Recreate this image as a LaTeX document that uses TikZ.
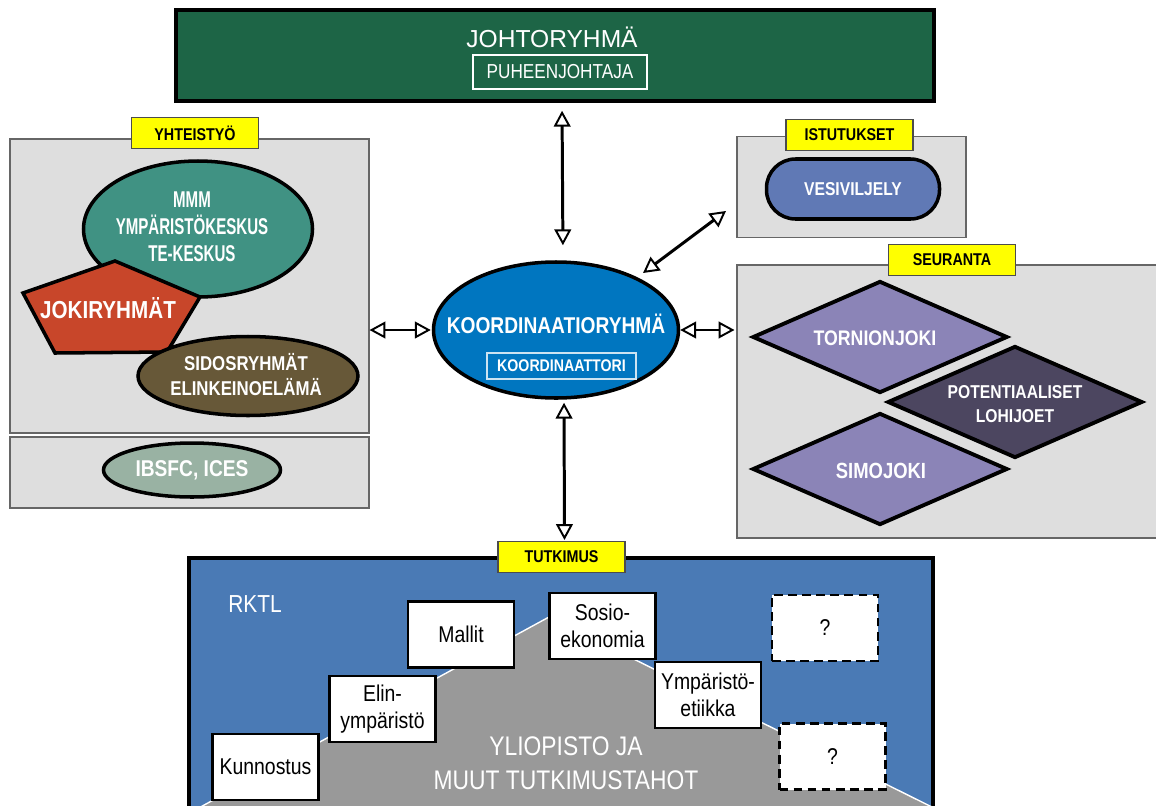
\documentclass[tikz,border=0pt]{standalone}
\usepackage{fontspec}
\setmainfont{Liberation Sans}[FakeStretch=0.85,BoldFeatures={FakeStretch=0.84}]
\newfontfamily\widefont{Liberation Sans}
\newfontfamily\narrowfont{Liberation Sans Bold}[FakeStretch=0.66]
\usepackage{tikz}
\usetikzlibrary{arrows.meta,shapes.geometric,calc}
\definecolor{johtogreen}{RGB}{29,101,70}
\definecolor{panelgray}{RGB}{222,222,222}
\definecolor{mmmteal}{RGB}{64,146,131}
\definecolor{jokired}{RGB}{200,70,42}
\definecolor{sidosbrown}{RGB}{103,88,56}
\definecolor{ibsfcgreen}{RGB}{153,178,163}
\definecolor{koordblue}{RGB}{0,118,192}
\definecolor{vesiblue}{RGB}{96,121,181}
\definecolor{jokipurple}{RGB}{139,132,183}
\definecolor{lohidark}{RGB}{76,70,96}
\definecolor{rktlblue}{RGB}{74,122,181}
\definecolor{tagyellow}{RGB}{255,255,0}
\newcommand{\pxu}{0.02cm}
\newcommand{\bordersize}{2pt}
\newcommand{\fsz}[2]{\fontsize{#1}{#2}\selectfont}

\begin{document}
\begin{tikzpicture}[x=0.02cm,y=-0.02cm,
    panel/.style={draw=black!60,fill=panelgray,line width=0.6pt,inner sep=0pt},
    tag/.style={draw=black!70,fill=tagyellow,line width=0.6pt,inner sep=0pt,
        minimum width=127*\pxu,minimum height=31*\pxu,font=\fsz{9.7}{11}\bfseries},
    blob/.style={draw=black,line width=\bordersize,ellipse,inner sep=0pt},
    wtext/.style={text=white,align=center,inner sep=0pt},
    rhomb/.style={draw=black,line width=2.2pt,diamond,inner sep=0pt,
        minimum width=255*\pxu,minimum height=112*\pxu},
    topic/.style={draw=black,line width=1.6pt,fill=white,inner sep=0pt,align=center,
        minimum width=106*\pxu,minimum height=66*\pxu,font=\fsz{13}{15.5}},
    dbl/.style={{Triangle[open,length=9pt,width=9.5pt,line width=1.1pt]}-{Triangle[open,length=9pt,width=9.5pt,line width=1.1pt]},
        line width=1.7pt}
]

    \clip (0,0) rectangle (1156,805);

%%%%        Panels
    \node[draw=black,line width=\bordersize,fill=johtogreen,inner sep=0pt,
        minimum width=758*\pxu,minimum height=91*\pxu] (johto) at (555,55.5) {};
    \node[panel,minimum width=359*\pxu,minimum height=294*\pxu] (yht) at (189.5,286) {};
    \node[panel,minimum width=359*\pxu,minimum height=71*\pxu] (kv) at (189.5,472.5) {};
    \node[panel,minimum width=229*\pxu,minimum height=101*\pxu] (ist) at (851.5,187) {};
    \node[panel,minimum width=422*\pxu,minimum height=273*\pxu] (seur) at (948,401.5) {};
    \node[draw=black,line width=2.2pt,fill=rktlblue,inner sep=0pt,
        minimum width=744*\pxu,minimum height=260*\pxu] (tutk) at (561,688) {};

%mountain
    \coordinate (peak) at (549,617);
    \coordinate (footL) at (195,810);
    \coordinate (footR) at (938,810);
    \fill[black!40,draw=white,line width=0.8pt] (footL) -- (peak) -- (footR) -- cycle;

%%%%        Tags
    \node[tag] (yhtTag) at (195,133) {YHTEISTYÖ};
    \node[tag] (istTag) at (849.5,135) {ISTUTUKSET};
    \node[tag] (seurTag) at (952,260) {SEURANTA};
    \node[tag] (tutkTag) at (561.5,557) {TUTKIMUS};

%%%%        Johtoryhma
    \node[wtext,font=\widefont\fsz{14}{16}] (johtoText) at (552,37) {JOHTORYHMÄ};
    \node[draw=white,line width=1.2pt,text=white,inner sep=0pt,font=\fsz{11.5}{13},
        minimum width=174*\pxu,minimum height=34*\pxu] (puh) at (560,72) {PUHEENJOHTAJA};

%%%%        Yhteistyo
    \node[blob,fill=mmmteal,minimum width=229*\pxu,minimum height=136*\pxu] (mmm) at (198,229) {};
    \node[wtext,font=\narrowfont\fsz{13}{15.3}] (mmmText) at (192,227)
        {MMM\\YMPÄRISTÖKESKUS\\TE-KESKUS};
%pentagon
    \coordinate (j0) at (115,261);
    \coordinate (j1) at (23,293);
    \coordinate (j2) at (55,353);
    \coordinate (j3) at (167,352);
    \coordinate (j4) at (200,297);
    \draw[fill=jokired,line width=\bordersize,line join=miter] (j0) -- (j1) -- (j2) -- (j3) -- (j4) -- cycle;
    \node[wtext,font=\fsz{14}{16}\bfseries] (joki) at (108,308) {JOKIRYHMÄT};
    \node[blob,fill=sidosbrown,minimum width=220*\pxu,minimum height=79*\pxu] (sidos) at (248,376) {};
    \node[wtext,font=\fsz{11.4}{14.2}\bfseries] (sidosText) at (246,375) {SIDOSRYHMÄT\\ELINKEINOELÄMÄ};
    \node[blob,fill=ibsfcgreen,text=white,font=\fsz{13}{15}\bfseries,
        minimum width=177*\pxu,minimum height=54*\pxu] (ibsfc) at (192,470) {IBSFC, ICES};

%%%%        Koordinaatioryhma
    \node[blob,fill=koordblue,minimum width=245*\pxu,minimum height=136*\pxu] (koord) at (556,330) {};
    \node[wtext,font=\fsz{13}{15}\bfseries] (koordText) at (556,324) {KOORDINAATIORYHMÄ};
    \node[draw=white!80!koordblue,line width=0.6pt,text=white,inner sep=0pt,font=\fsz{9.6}{12}\bfseries,
        minimum width=149*\pxu,minimum height=26*\pxu] (koordtori) at (561.5,366) {KOORDINAATTORI};

%%%%        Istutukset, seuranta
    \node[draw=black,line width=\bordersize,fill=vesiblue,rounded corners=29*\pxu,
        text=white,font=\fsz{10.6}{13}\bfseries,minimum width=173*\pxu,minimum height=60*\pxu] (vesi) at (853,189) {VESIVILJELY};
    \node[rhomb,fill=jokipurple] (torn) at (880,337) {};
    \node[wtext,font=\fsz{12}{14}\bfseries] (tornText) at (875,338) {TORNIONJOKI};
    \node[rhomb,fill=lohidark] (lohi) at (1015,402) {};
    \node[wtext,font=\fsz{10.6}{13.6}\bfseries] (lohiText) at (1015,404) {POTENTIAALISET\\LOHIJOET};
    \node[rhomb,fill=jokipurple] (simo) at (880,469) {};
    \node[wtext,font=\fsz{12.5}{14}\bfseries] (simoText) at (881,471) {SIMOJOKI};

%%%%        Tutkimus
    \node[wtext,font=\fsz{14}{17}] (rktl) at (255,604) {RKTL};
    \node[wtext,font=\fsz{15.3}{19.5}] (ylio) at (566,763) {YLIOPISTO JA\\MUUT TUTKIMUSTAHOT};
    \foreach \n/\x/\y/\t in {kunn/265.5/767/{Kunnostus},elin/382.5/709/{Elin-\\ympäristö},
        malli/461/634.5/{Mallit},sosio/602.5/626/{Sosio-\\ekonomia},etiikka/708/695/{Ympäristö-\\etiikka}}
    {
        \node[topic] (\n) at (\x,\y) {\t};
    }
    \foreach \n/\x/\y in {q1/825/628,q2/832.5/756.5}
    {
        \node[topic,dashed,dash pattern=on 5pt off 3pt] (\n) at (\x,\y) {?};
    }

%%%%        Arrows
    \coordinate (d1) at (643,273);
    \coordinate (d2) at (726,211);
    \draw[dbl,shorten <=8*\pxu,shorten >=15*\pxu] ([xshift=7*\pxu]johto.south) -- ([xshift=7*\pxu]koord.north);
    \draw[dbl,shorten <=3*\pxu,shorten >=1*\pxu] ([xshift=8*\pxu]koord.south) -- ([xshift=3*\pxu]tutkTag.north);
    \draw[dbl,shorten >=1*\pxu] (yht.east |- koord.west) -- (koord.west);
    \draw[dbl,shorten >=2*\pxu] (koord.east) -- (koord.east -| seur.west);
    \draw[dbl] (d1) -- (d2);
\end{tikzpicture}
\end{document}
